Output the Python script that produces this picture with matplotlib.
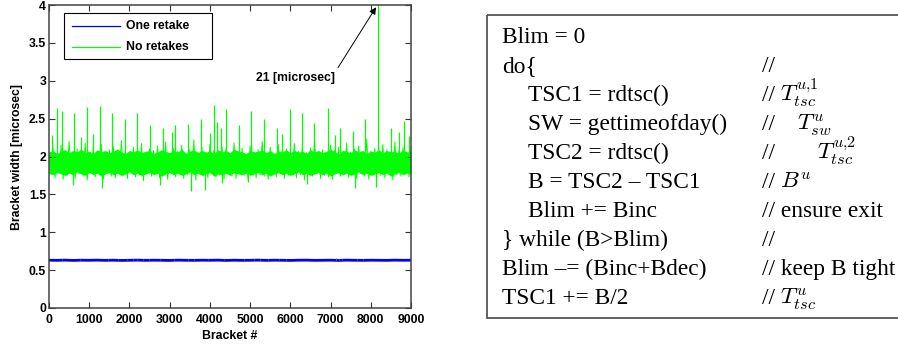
import numpy as np
import matplotlib
matplotlib.use('Agg')
import matplotlib.pyplot as plt
from matplotlib.patches import Rectangle
from matplotlib.lines import Line2D

plt.rcParams['font.family'] = 'Liberation Sans'
plt.rcParams['mathtext.fontset'] = 'cm'

# ---- data ----
# solid core of the green band, brackets 0,100,...,9000
core_hi = [2.06, 2.08, 2.04, 2.07, 2.09, 2.05, 2.08, 2.06, 2.10, 2.05,
           2.07, 2.04, 2.09, 2.06, 2.08, 2.05, 2.07, 2.10, 2.06, 2.04,
           2.08, 2.06, 2.09, 2.05, 2.07, 2.08, 2.04, 2.06, 2.09, 2.07,
           2.05, 2.08, 2.06, 2.10, 2.04, 2.07, 2.09, 2.05, 2.08, 2.06,
           2.07, 2.04, 2.09, 2.06, 2.08, 2.05, 2.10, 2.07, 2.06, 2.04,
           2.08, 2.06, 2.07, 2.09, 2.05, 2.08, 2.04, 2.07, 2.06, 2.09,
           2.05, 2.08, 2.06, 2.07, 2.04, 2.09, 2.06, 2.08, 2.05, 2.07,
           2.10, 2.06, 2.04, 2.08, 2.07, 2.05, 2.09, 2.06, 2.08, 2.04,
           2.07, 2.06, 2.09, 2.05, 2.08, 2.06, 2.07, 2.04, 2.09, 2.06, 2.07]
core_lo = [1.78, 1.76, 1.79, 1.77, 1.75, 1.78, 1.76, 1.80, 1.77, 1.75,
           1.79, 1.76, 1.78, 1.74, 1.77, 1.79, 1.76, 1.78, 1.75, 1.77,
           1.80, 1.76, 1.78, 1.75, 1.77, 1.79, 1.76, 1.78, 1.74, 1.77,
           1.79, 1.76, 1.78, 1.75, 1.77, 1.80, 1.76, 1.78, 1.75, 1.77,
           1.79, 1.74, 1.77, 1.76, 1.78, 1.75, 1.79, 1.77, 1.76, 1.78,
           1.75, 1.77, 1.79, 1.76, 1.78, 1.74, 1.77, 1.79, 1.76, 1.78,
           1.75, 1.77, 1.80, 1.76, 1.78, 1.75, 1.77, 1.79, 1.76, 1.78,
           1.74, 1.77, 1.79, 1.76, 1.78, 1.75, 1.77, 1.80, 1.76, 1.78,
           1.75, 1.77, 1.79, 1.76, 1.78, 1.74, 1.77, 1.79, 1.76, 1.78, 1.77]
# outer fringe: upper samples at 0,100,...,9000, lower ones at 50,150,...,8950
green_hi = [2.05, 2.12, 2.02, 2.15, 2.08, 2.20, 2.04, 2.10, 2.06, 2.18,
            2.03, 2.11, 2.07, 2.16, 2.02, 2.09, 2.13, 2.05, 2.21, 2.08,
            2.04, 2.12, 2.06, 2.17, 2.03, 2.10, 2.08, 2.14, 2.05, 2.19,
            2.02, 2.11, 2.07, 2.15, 2.04, 2.09, 2.22, 2.06, 2.12, 2.03,
            2.16, 2.08, 2.05, 2.13, 2.10, 2.04, 2.18, 2.07, 2.11, 2.02,
            2.14, 2.06, 2.09, 2.20, 2.05, 2.12, 2.03, 2.16, 2.08, 2.10,
            2.04, 2.17, 2.07, 2.13, 2.05, 2.11, 2.21, 2.06, 2.09, 2.03,
            2.15, 2.08, 2.12, 2.04, 2.18, 2.06, 2.10, 2.14, 2.05, 2.23,
            2.07, 2.11, 2.03, 2.16, 2.09, 2.05, 2.19, 2.08, 2.12, 2.06, 2.10]
green_lo = [1.76, 1.72, 1.79, 1.70, 1.75, 1.78, 1.71, 1.77, 1.74, 1.69,
            1.78, 1.73, 1.76, 1.70, 1.79, 1.74, 1.72, 1.77, 1.75, 1.71,
            1.78, 1.73, 1.76, 1.68, 1.77, 1.74, 1.79, 1.72, 1.75, 1.70,
            1.77, 1.73, 1.78, 1.71, 1.76, 1.74, 1.69, 1.77, 1.75, 1.72,
            1.79, 1.73, 1.76, 1.70, 1.78, 1.74, 1.71, 1.77, 1.75, 1.69,
            1.78, 1.72, 1.76, 1.74, 1.70, 1.79, 1.73, 1.77, 1.71, 1.75,
            1.78, 1.72, 1.76, 1.69, 1.77, 1.74, 1.79, 1.71, 1.75, 1.73,
            1.70, 1.78, 1.74, 1.76, 1.72, 1.79, 1.71, 1.77, 1.74, 1.70,
            1.78, 1.73, 1.75, 1.72, 1.77, 1.69, 1.76, 1.74, 1.78, 1.73]
spike_x = [67, 200, 315, 630, 790, 945, 1100, 1270, 1560, 1880, 2200, 2520,
           2845, 3050, 3135, 3450, 3775, 4000, 4090, 4165, 4280, 4410, 4720,
           5030, 5350, 5670, 5800, 5980, 6285, 6600, 6925, 7100, 7240, 7560,
           7860, 8190, 8500, 8700, 8825, 8950]
spike_y = [2.28, 2.64, 2.60, 2.57, 2.26, 2.66, 2.30, 2.67, 2.57, 2.50, 2.58, 2.42,
           2.38, 2.33, 2.42, 2.43, 2.50, 2.31, 2.68, 2.46, 2.37, 2.63, 2.42,
           2.60, 2.50, 2.38, 2.30, 2.63, 2.58, 2.44, 2.64, 2.29, 2.38, 2.34,
           2.50, 21.0, 2.38, 2.32, 2.47, 2.27]
dip_x = [600, 1310, 2760, 3520, 3880, 4290, 4950, 6420, 7610, 8125]
dip_y = [1.62, 1.58, 1.62, 1.54, 1.56, 1.65, 1.66, 1.64, 1.59, 1.60]

# blue series at brackets 0,200,...,9000 plus its small upward blips
blue = [0.631, 0.629, 0.632, 0.628, 0.631, 0.630, 0.632, 0.629, 0.631, 0.628,
        0.630, 0.632, 0.629, 0.631, 0.630, 0.628, 0.632, 0.630, 0.629, 0.631,
        0.630, 0.632, 0.628, 0.631, 0.629, 0.630, 0.632, 0.629, 0.631, 0.630,
        0.628, 0.631, 0.632, 0.629, 0.630, 0.631, 0.628, 0.632, 0.630, 0.629,
        0.631, 0.630, 0.629, 0.632, 0.630, 0.631]
blip_x = [320, 760, 1460, 1710, 1930, 2090, 2200, 2330, 2480, 2760, 3100, 3450,
          3600, 3950, 4350, 4850, 5100, 5250, 5450, 5720, 5900, 7130, 7210,
          7280, 7650, 7800]
blip_y = [0.645, 0.644, 0.650, 0.648, 0.652, 0.649, 0.653, 0.650, 0.647, 0.652,
          0.648, 0.650, 0.646, 0.649, 0.645, 0.651, 0.650, 0.653, 0.648, 0.652,
          0.647, 0.654, 0.651, 0.650, 0.652, 0.648]

series_names = ['One retake', 'No retakes']

# pseudo code box: (code, indent, comment, math comment)
code_lines = ['Blim = 0', 'do{', 'TSC1 = rdtsc()', 'SW = gettimeofday()',
              'TSC2 = rdtsc()', 'B = TSC2 \u2013 TSC1', 'Blim += Binc',
              '} while (B>Blim)', 'Blim \u2013= (Binc+Bdec)', 'TSC1 += B/2']
code_indent = [0, 0, 1, 1, 1, 1, 1, 0, 0, 0]
comments = ['', '//', '//', '//', '//', '//', '// ensure exit', '//',
            '// keep B tight', '//']
math_comments = ['', '', r'$T_{tsc}^{u{,}1}$', r'$T_{sw}^{u}$', r'$T_{tsc}^{u{,}2}$',
                 r'$B^u$', '', '', '', r'$T_{tsc}^{u}$']
math_shift = [0, 0, 18, 35, 55, 18, 0, 0, 0, 18]

gx = np.arange(0, 9001, 100)
fx = np.concatenate([gx, gx[:-1] + 50])
fy = np.concatenate([green_hi, green_lo])
order = np.argsort(fx)
bx = np.arange(0, 9001, 200)

fig = plt.figure(figsize=(8.98, 3.45), dpi=100)
ax = fig.add_axes([49/898, 37/345, 362/898, 303/345])
green = '#00ff00'
ax.fill_between(gx, core_lo, core_hi, color=green, lw=0)
ax.plot(fx[order], fy[order], color=green, lw=0.7)
ax.vlines(spike_x, 2.0, spike_y, color=green, lw=0.9)
ax.vlines(dip_x, dip_y, 1.8, color=green, lw=0.9)
ax.plot(bx, blue, color='#0000ff', lw=2.0)
ax.vlines(blip_x, 0.63, blip_y, color='#6060ff', lw=0.6)

ax.set_xlim(0, 9000)
ax.set_ylim(0, 4)
ax.set_xticks(range(0, 9001, 1000))
ax.set_yticks([0, 0.5, 1, 1.5, 2, 2.5, 3, 3.5, 4])
ax.set_yticklabels(['0', '0.5', '1', '1.5', '2', '2.5', '3', '3.5', '4'])
ax.tick_params(direction='in', length=4, width=0.8, top=True, right=True,
               labelsize=8.8, pad=2, color='#333333')
ax.tick_params(axis='x', pad=4)
for lab in ax.get_xticklabels() + ax.get_yticklabels():
    lab.set_fontweight('bold')
for sp in ax.spines.values():
    sp.set_color('#444444')
    sp.set_linewidth(1.1)
ax.set_xlabel('Bracket #', fontsize=8.8, fontweight='bold', labelpad=3)
ax.set_ylabel('Bracket width [microsec]', fontsize=8.8, fontweight='bold', labelpad=4)

ax.annotate('21 [microsec]', xy=(8130, 3.97), xytext=(6140, 3.04),
            fontsize=8.8, fontweight='bold', ha='center', va='center',
            arrowprops=dict(arrowstyle='-|>', color='black', lw=0.7,
                            mutation_scale=10, relpos=(1.0, 1.0),
                            shrinkA=1, shrinkB=0))

# legend box (MATLAB style)
lt = ax.transAxes
ax.add_patch(Rectangle((0.041, 0.822), 0.409, 0.152, transform=lt,
                       facecolor='white', edgecolor='black', lw=0.8, zorder=5))
for i, (name, col) in enumerate(zip(series_names, ['#0000ff', green])):
    yy = 0.93 - i * 0.07
    ax.add_line(Line2D([0.064, 0.196], [yy, yy], transform=lt, color=col,
                       lw=0.9, zorder=6))
    ax.text(0.213, yy, name, transform=lt, fontsize=8.8, fontweight='bold',
            va='center', ha='left', zorder=6)

# pseudo code panel
ax2 = fig.add_axes([487/898, 27/345, 420/898, 303/345])
ax2.set_xlim(487, 907)
ax2.set_ylim(318, 15)
ax2.axis('off')
ax2.add_patch(Rectangle((487, 15), 420, 303, facecolor='none',
                        edgecolor='#555555', lw=1.3, clip_on=False))
# baselines of the ten rows
row_base = np.linspace(43, 304, len(code_lines))
for i in range(len(code_lines)):
    ax2.text(502 + 26 * code_indent[i], row_base[i], code_lines[i],
             family='Liberation Serif', fontsize=16.8, va='baseline', ha='left')
    if comments[i]:
        ax2.text(762, row_base[i], comments[i], family='Liberation Serif',
                 fontsize=16.8, va='baseline', ha='left')
    if math_comments[i]:
        ax2.text(762 + math_shift[i], row_base[i], math_comments[i],
                 fontsize=16.8, va='baseline', ha='left')

fig.savefig('out.png', dpi=100)
